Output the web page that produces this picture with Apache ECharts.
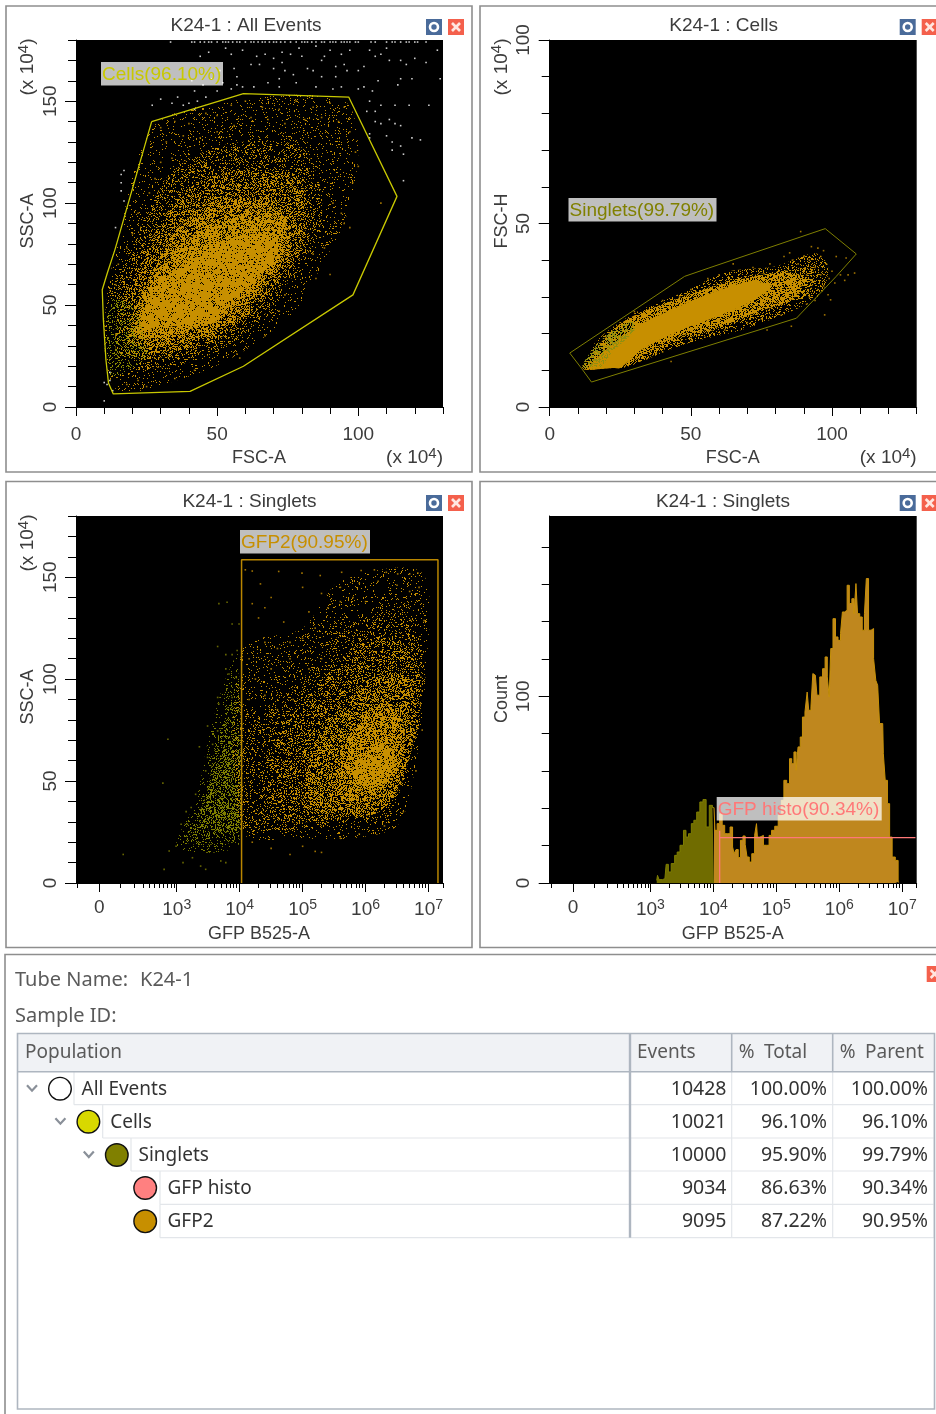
<!DOCTYPE html>
<html><head><meta charset="utf-8">
<style>html,body{margin:0;padding:0;background:#fff}#main{width:936px;height:1414px}#main canvas{filter:blur(0.45px)}</style>
<script src="https://cdn.jsdelivr.net/npm/echarts@6/dist/echarts.min.js"></script>
</head><body><div id="main"></div>
<script>
// ---------- colours ----------
const ORANGE='#C78F00', OLIVE='#7F7F00', YELLOW='#C8C800', PINK='#FF7878', WHITE='#FFFFFF';

// ---------- tick labels ----------
const linearXMajor=[0,50,100];
const linearXMinor=[10,20,30,40,60,70,80,90,110,120,130];
const ssc150Major=[0,50,100,150];
const ssc150Minor=[10,20,30,40,60,70,80,90,110,120,130,140,160,170,180];
const fscHMajor=[0,50,100];
const fscHMinor=[10,20,30,40,60,70,80,90];
const countMajor=[0,100];
const countMinor=[20,40,60,80,120,140,160,180];
// biexponential axis expressed in decades (3 = 10^3, ...); 1.77 is the "0" mark
const gfpMajor=[1.77,3,4,5,6,7];
const gfpMajorText={1.77:'0',3:'10{s|3}',4:'10{s|4}',5:'10{s|5}',6:'10{s|6}',7:'10{s|7}'};
const gfpMinor=[1.42,2.11,2.32,2.47,2.57,2.65,2.73,2.79,2.85,2.91,2.96,
 3.3,3.48,3.6,3.7,3.78,3.85,3.9,3.95,4.3,4.48,4.6,4.7,4.78,4.85,4.9,4.95,
 5.3,5.48,5.6,5.7,5.78,5.85,5.9,5.95,6.3,6.48,6.6,6.7,6.78,6.85,6.9,6.95,7.23];

// ---------- gates ----------
const gateCells=[[26.8,140],[59.3,153.7],[96.6,152],[113.7,103.3],[98.1,55],[59.3,20],[40.4,7.7],[13.2,6.4],[11.5,11.8],[10.6,23.2],[9.7,42.8],[9.3,57.5],[11.1,65.7],[13.8,77.2]];
const gateSinglets=[[7.1,14.7],[47.8,35.6],[56.1,37.8],[97.6,48.6],[108.6,41.7],[101.5,35.6],[87.4,24.2],[76.2,21.5],[14.8,6.8],[11.2,10.6]];
const gateGfp2=[[4.03,0],[4.03,158.5],[7.15,158.5],[7.15,0]];
const gateHisto=[[4.1,0],[4.1,28],[4.1,24.3],[7.21,24.3]];

// ---------- density outlines (stipple level: percent filled) ----------
const all0=[[14,9],[11,55],[14,75],[27,137],[59,151],[95,150],[100,125],[95,90],[88,72],[78,48],[60,28],[40,15]];
const allA=[[12.1,15],[10.9,52.6],[18,72.3],[26.2,98.4],[35.7,118],[55.8,129.5],[79.4,127.8],[86.5,108.2],[86.5,88.6],[79.4,69],[72.3,55.9],[65.2,42.8],[53.4,29.8],[39.2,21.6],[23.9,18.3]];
const allAB=[[15,24],[15,48],[22,68],[31,93],[43,110],[60,116],[78,113],[82,98],[80,80],[72,62],[62,46],[50,33],[36,26],[24,23]];
const allB=[[19.1,31.4],[19.1,42.8],[26.2,64.1],[35.7,87],[49.9,101.7],[67.6,100],[75.9,88.6],[74.7,73.9],[65.2,55.9],[55.8,41.2],[44,34.7],[29.8,29.8]];
const allBC=[[20.5,35],[23.5,51],[32,72],[44,86],[60,94],[73,93],[74,78],[65,60],[52,46],[39,37],[28,34]];
const allC=[[22.7,39.6],[28.6,59.2],[39.2,70.6],[53.4,82.1],[67.6,85.3],[72.3,78.8],[65.2,64.1],[55.8,52.6],[48.7,41.2],[34.5,39.6]];
const allOlive=[[12,16],[12,52],[20,50],[24,35],[25,25],[16,16]];
const celA=[[11.2,10.6],[13,10.6],[15.9,17.4],[30.1,25.6],[46.6,31],[63.2,36.9],[79.7,38.3],[93.9,41.9],[98.6,38.3],[96.2,31],[86.8,26.5],[67.9,21],[49,17.4],[32.5,12.4],[26,10.6],[24.2,10.6]];
const celAB=[[11.5,10.6],[20,19],[37,27],[52,31.5],[69,35.5],[82,37],[92,38],[94,35],[90,30],[80,27.5],[66,23],[47,18],[31,12],[24,10.6],[22,10.6]];
const celB=[[11.8,10.6],[25.4,22.9],[44.3,29.2],[58.4,32.9],[75,36],[85.6,36.5],[90.3,34.7],[85.6,29.2],[73.8,26],[60.8,22],[44.3,18.8],[27.7,12],[22,10.6],[20.7,10.6]];
const celC=[[13.6,10.6],[28.9,21],[44.3,26.9],[58.4,31.4],[71.4,34.2],[78.5,32.9],[71.4,28.8],[60.8,25.1],[46.6,21],[32.5,15.6],[25,10.6],[23,10.6]];
const celOlive=[[11.8,11],[18.3,18.3],[28.9,23.3],[30.1,21],[21.8,14.7],[18.3,11]];
const sin0=[[4.05,25],[4.05,115],[5,125],[5.6,148],[6.9,152],[6.95,100],[6.75,50],[6.5,28],[5.8,22],[5,22]];
const sinA=[[4.05,25.5],[4.05,71.4],[4.93,97.6],[5.72,125.4],[6.51,133.6],[6.88,120.5],[6.91,92.7],[6.72,64.9],[6.51,42],[6.25,32.1],[5.46,28.8],[4.67,25.5]];
const sinAB=[[4.5,33],[4.6,72],[5.1,92],[5.8,115],[6.5,120],[6.85,105],[6.85,80],[6.62,55],[6.35,38],[5.5,31]];
const sinB=[[4.99,38.6],[5.2,68.1],[5.72,87.8],[6.09,100.9],[6.62,102.5],[6.8,87.8],[6.72,64.9],[6.51,45.2],[6.14,33.7],[5.46,34.5]];
const sinC=[[5.51,43.6],[5.67,68.1],[6.09,84.5],[6.41,87.8],[6.62,74.7],[6.46,51.7],[6.09,40.3]];
const sinD=[[5.78,55],[6.14,68.1],[6.46,64.8],[6.35,50],[5.99,46.8]];
const negO=[[3.0,18],[3.3,40],[3.5,70],[3.75,98],[3.99,112],[4,20],[3.6,15]];
const negA=[[3.15,20.6],[3.46,41.9],[3.62,68.1],[3.88,92.7],[3.99,102.5],[3.99,22.3],[3.62,19]];
const negB=[[3.36,28.8],[3.57,51.7],[3.78,68.1],[3.99,71.4],[3.99,25.5],[3.67,25.5]];

// ---------- individual events ----------
const outsideTopX=[33.5,41,42,44,45.5,47,48,50,52,53,54,55.5,57,58,60,62,63,64.5,66,67,68.5,70,71,72.5,74,76,78,80,81,82,83.5,85,87,88,90,91,92,94,95,96,97,99,100,104.5,106,110,112,113,115,117,118,120,121,124];
const outsideGate=[[44,172],[47,174],[53,176],[55,173],[59,175],[64,172],[67,173],[70,171],[73,174],[76,173],[79,176],[80,172],[85,177],[88,172],[90,175],[94,173],[97,175],[104,175],[106,172],[108,173],[110,176],[111,170],[115,170],[117,168],[120,171],[124,169],[128,175],[129,161],
[44,166],[51,165],[56,166],[57,162],[62,168],[65,168],[70,166],[72,161],[74,165],[77,163],[73,169],[84,165],[87,162],[82,166],[87,170],[92,167],[95,168],[96,165],[92,162],[100,165],[102,167],[107,160],[115,161],[119,161],
[42,155],[45,158],[41,160],[43,150],[48,161],[52,159],[55,156],[57,158],[59,157],[63,157],[68,159],[72,157],[78,159],[85,157],[91,156],[94,157],[100,156],[102,157],[105,155],[114,158],
[27,148],[30,151],[34,149],[36,152],[38,148],[40,149],[42,146],[46,152],[50,155],[104,150],[103,145],[106,145],[108,148],[113,148],[118,148],[125,148],[106,140],[108,139],[111,141],[113,139],[115,138],[104,134],[110,133],[104,132],[112,130],[115,128],[119,132],[122,131],[112,126],[116,124],[116,111],
[16,114],[17,116],[16,110],[16,106],[14,88],[17,101],[12,17],[12,13],[10,12],[11,11],[13,8],[10,3]];
const insideCells=[[30,137],[35,140],[40,139],[46,144],[50,143],[55,148],[60,150],[66,147],[72,146],[78,150],[84,147],[90,149],[95,147],[93,140],[87,142],[81,141],[74,139],[68,141],[62,142],[56,138],[50,135],[44,132],[38,133],[32,130],[30,120],[34,122],[28,112],[26,105],[22,95],[20,85],[18,78],[15,70],[14,60],[97,135],[99,125],[100,118],[98,110],[91,100],[94,95],[95,90],[97,88],[88,78],[84,75],[90,65],[85,63],[72,47],[74,55],[67,35],[57,26],[58,24],[42,18],[35,14],[22,13],[18,11],[25,10],[108,100]];
const cellsFringe=[[88.9,47.8],[92.7,43.7],[95,43.3],[97,42.6],[101.5,41],[105,40.6],[108,36.5],[105.7,36],[103,36],[104.5,34.5],[101,33.8],[98.6,30.6],[99.5,29.2],[97.4,25.1],[85.6,22],[77,21],[43,12.4],[90,41],[92,40],[94,38],[96,36],[88,39],[86,40],[91,36],[93,34],[95,32],[89,33],[92,30],[87,35],[85,42],[84,37],[83,41],[98,39],[96,41],[99,35],[97,33],[94,29],[91,28],[100,37],[82,25],[75,24],[70,23],[65,39],[60,36],[56,35],[50,32],[46,30],[40,29],[35,26],[30,26],[72,38],[78,39],[40,15],[50,18],[55,19],[62,21]];
const gfpFringe=[[4.09,153.6],[4.2,153],[4.33,146.7],[4.62,152.8],[4.99,152],[5.28,150.8],[5.62,152.4],[5.93,153.3],[6.14,153.6],[6.33,152.4],[6.51,151.6],[6.7,151.6],[6.83,152],[6.85,145],[6.93,128.7],[6.88,100.9],[6.87,87.8],[5,145],[5.3,142],[5.6,145],[5.9,147],[6.2,148],[6.5,146],[6.7,143],[5.1,133],[5.4,135],[5.6,138],[5.8,140],[6,138],[4.4,135],[4.5,140],[4.7,128],[4.2,137],[4.3,130],[4.6,115],[4.8,118],[4.4,118],[4.15,110],[4.5,105],[4.25,100],[4.8,110],[5,120],[5.2,125],[5.3,110],[5.1,105],[4.15,90],[4.4,92],[4.6,85],[4.85,90],[4.2,20],[4.5,17],[4.8,14],[5,18],[5.3,15],[5.6,22],[5.9,24],[6.3,28],[6.6,35],[6.8,55],[6.9,75],[5.2,15.5]];
const gfpNegative=[[2.15,14],[2.78,49],[2.86,70.5],[2.8,6.7],[2.88,15.7],[2.99,18],[3.1,10],[3.25,12.4],[3.38,8.3],[3.46,6.7],[3.7,10.8],[3.78,10],[3.36,66.8],[3.49,77],[3.65,91],[3.67,137],[3.8,137.7],[3.65,116],[3.88,127],[3.78,112],[3.83,102.5],[3.78,105],[3.07,28.8],[3.17,28.8],[3.15,35],[3.23,37],[3.3,43.5],[3.46,55],[3.49,61.6],[3.57,68],[3.65,74.6],[3.67,87.8],[3.88,91],[3.94,101],[3.96,114],[3.88,112],[3.99,127]];

// ---------- histogram ----------
const histBin=[3.10,3.125,3.15,3.23,3.27,3.30,3.36,3.41,3.44,3.50,3.55,3.58,3.63,3.67,3.71,3.76,3.81,3.86,3.91,3.96,4.01,4.04,4.08,4.12,4.16,4.20,4.24,4.29,4.32,4.34,4.38,4.41,4.45,4.49,4.52,4.55,4.59,4.63,4.68,4.69,4.71,4.77,4.82,4.87,4.90,4.95,5.00,5.06,5.10,5.14,5.19,5.23,5.26,5.30,5.33,5.36,5.40,5.43,5.48,5.50,5.53,5.57,5.59,5.62,5.67,5.71,5.76,5.79,5.83,5.85,5.88,5.92,5.96,6.00,6.04,6.06,6.11,6.14,6.18,6.22,6.25,6.28,6.30,6.35,6.38,6.42,6.44,6.49,6.52,6.57,6.59,6.63,6.65,6.69,6.71,6.75,6.78,6.82,6.86,6.92,6.95];
const histCount=[1.4,4.1,1.8,2.3,10,5.9,10.4,14.8,16.6,20.2,28.2,24.6,26.4,31.8,33.6,38,43.4,44.7,30,41.6,40.4,28.2,31.8,37.1,30.9,26.4,26.4,30,19.3,15.7,17.9,13.6,22.9,25.2,20.7,13.9,11.2,15.7,25.5,31.8,24.6,25.5,20.2,20.2,25.5,28.2,30.4,36.3,44.3,55,53.2,66.6,63.9,70.2,60.4,72.9,78.2,88.9,91.6,102.3,92.5,94.3,112.2,111.3,100.6,110.4,114.8,121.1,110.4,99.7,125.6,141.6,131.8,130,133.6,145.2,146.1,159.5,149.7,152.3,144.3,160.4,144.3,142.5,135.4,144.3,163.1,135.4,136.3,120.2,108.6,105.9,85.4,85.4,69.3,55,42.5,24.6,13.9,12.1,0.5];
const histGateEdge=4.03;

// ---------- statistics table ----------
const tubeName='K24-1';
const tableHead=['Population','Events','%\u2002Total','%\u2002Parent'];
const popNames=['All Events','Cells','Singlets','GFP histo','GFP2'];
const popEvents=['10428','10021','10000','9034','9095'];
const popTotal=['100.00%','96.10%','95.90%','86.63%','87.22%'];
const popParent=['100.00%','96.10%','99.79%','90.34%','90.95%'];
const popColors=['#FFFFFF','#D8D800','#808000','#FF8080','#C78F00'];
const popDepth=[0,1,2,3,3];

// ---------- hand-typed stipple mask used as a density fill ----------
const stipple=[
'31415926535897932384626433832795','02884197169399375105820974944592','30781640628620899862803482534211','70679821480865132823066470938446',
'09550582231725359408128481117450','28410270193852110555964462294895','49303819644288109756659334461284','75648233786783165271201909145648',
'56692346034861045432664821339360','72602491412737245870066063155881','74881520920962829254091715364367','89259036001133053054882046652138',
'41469519415116094330572703657595','91953092186117381932611793105118','54807446237996274956735188575272','48912279381830119491298336733624',
'40656643086021394946395224737190','70217986094370277053921717629317','67523846748184676694051320005681','27145263560827785771342757789609',
'17363717872146844090122495343014','65495853710507922796892589235420','19956112129021960864034418159813','62977477130996051870721134999999',
'83729780499510597317328160963185','95024459455346908302642522308253','34468503526193118817101000313783','87528865875332083814206171776691',
'47303598253490428755468731159562','86388235378759375195778185778053','21712268066130019278766111959092','16420198938095257201065485863278'];

function maskCanvas(hex,percent){
  const S=400,c=document.createElement('canvas');c.width=S;c.height=S;
  const ctx=c.getContext('2d'),im=ctx.createImageData(S,S),d=im.data;
  const r=parseInt(hex.slice(1,3),16),gg=parseInt(hex.slice(3,5),16),b=parseInt(hex.slice(5,7),16);
  for(let y=0;y<S;y++)for(let x=0;x<S;x++){
    const tens=(+stipple[y%32][x%32]+ +stipple[(x+5)%31][(y+9)%29])%10;
    const units=+stipple[(y+17)%29][(x+3)%31];
    if(tens*10+units<percent){const o=(y*S+x)*4;d[o]=r;d[o+1]=gg;d[o+2]=b;d[o+3]=255;}
  }
  ctx.putImageData(im,0,0);
  return {image:c,repeat:'repeat'};
}

const TXT='#3c3c3c';
const SANS='"Liberation Sans",Arial,sans-serif';
const UI='"Noto Sans",sans-serif';

const panels=[
 {left:76,top:40,title:'K24-1 : All Events',tx:246,ty:26,fr:[6,6],xMin:0,xMax:130,yMax:180,xM:linearXMajor,xm:linearXMinor,yM:ssc150Major,ym:ssc150Minor,xName:'FSC-A',yName:'SSC-A',xMult:true,yMult:true},
 {left:549.7,top:40,title:'K24-1 : Cells',tx:723.7,ty:26,fr:[480,6],xMin:0,xMax:130,yMax:100,xM:linearXMajor,xm:linearXMinor,yM:fscHMajor,ym:fscHMinor,xName:'FSC-A',yName:'FSC-H',xMult:true,yMult:true},
 {left:76,top:516,title:'K24-1 : Singlets',tx:249.5,ty:502,fr:[6,481.5],xMin:1.4,xMax:7.23,yMax:180,xM:gfpMajor,xm:gfpMinor,yM:ssc150Major,ym:ssc150Minor,xName:'GFP B525-A',yName:'SSC-A',log:true,yMult:true},
 {left:549.7,top:516,title:'K24-1 : Singlets',tx:723,ty:502,fr:[480,481.5],xMin:1.4,xMax:7.23,yMax:196.6,xM:gfpMajor,xm:gfpMinor,yM:countMajor,ym:countMinor,xName:'GFP B525-A',yName:'Count',log:true}
];

const grids=[],xAxes=[],yAxes=[],series=[],g=[];
const tickLine={color:'#000',width:1};
panels.forEach((p,i)=>{
  grids.push({left:p.left,top:p.top,width:367,height:367,show:true,backgroundColor:'#000',borderWidth:0,containLabel:false});
  const xBase={gridIndex:i,type:'value',min:p.xMin,max:p.xMax,position:'bottom',splitLine:{show:false},minorTick:{show:false},axisLine:{show:true,onZero:false,lineStyle:{color:'#000'}}};
  xAxes.push({...xBase,axisTick:{show:true,length:9,customValues:p.xM,lineStyle:tickLine},
    axisLabel:{show:true,customValues:p.xM,margin:p.log?15:18,color:TXT,fontFamily:SANS,fontSize:19,
      hideOverlap:false,showMinLabel:true,showMaxLabel:true,
      formatter:p.log?(v=>gfpMajorText[v]):(v=>String(v)),
      rich:{s:{fontSize:14,fontFamily:SANS,color:TXT,padding:[0,0,9,0]}}}});
  xAxes.push({...xBase,axisLine:{show:false},axisTick:{show:true,length:p.log?5:7,customValues:p.xm,lineStyle:tickLine},axisLabel:{show:false}});
  const yBase={gridIndex:i,type:'value',min:0,max:p.yMax,position:'left',splitLine:{show:false},minorTick:{show:false},axisLine:{show:true,onZero:false,lineStyle:{color:'#000'}}};
  yAxes.push({...yBase,axisTick:{show:true,length:11,customValues:p.yM,lineStyle:tickLine},
    axisLabel:{show:true,customValues:p.yM,rotate:90,margin:16,color:TXT,fontFamily:SANS,fontSize:19,hideOverlap:false,showMinLabel:true,showMaxLabel:true,formatter:v=>String(v)}});
  yAxes.push({...yBase,axisLine:{show:false},axisTick:{show:true,length:8,customValues:p.ym,lineStyle:tickLine},axisLabel:{show:false}});
});

function cloud(i,list){ // list of {pts,color,pct}
  const fills=list.map(l=>l.pct>=100?l.color:maskCanvas(l.color,l.pct));
  series.push({type:'custom',xAxisIndex:i*2,yAxisIndex:i*2,silent:true,z:2,
    data:list.map((_,k)=>[k,0]),
    renderItem:(params,api)=>{
      const l=list[params.dataIndex];
      return {type:'polygon',shape:{points:l.pts.map(q=>api.coord(q)),smooth:0.3},style:{fill:fills[params.dataIndex],stroke:null}};
    }});
}
function dots(i,name,data,color){
  series.push({type:'scatter',name,xAxisIndex:i*2,yAxisIndex:i*2,data,symbol:'rect',symbolSize:1.6,silent:true,z:3,itemStyle:{color}});
}
function gate(i,name,pts,color,width,closed){
  series.push({type:'line',name,xAxisIndex:i*2,yAxisIndex:i*2,data:closed?pts.concat([pts[0]]):pts,showSymbol:false,silent:true,z:5,lineStyle:{color,width}});
}

cloud(0,[{pts:all0,color:ORANGE,pct:7},{pts:allA,color:ORANGE,pct:20},{pts:allAB,color:ORANGE,pct:38},{pts:allB,color:ORANGE,pct:58},{pts:allBC,color:ORANGE,pct:76},{pts:allC,color:ORANGE,pct:92},{pts:allOlive,color:'#8A8A00',pct:20}]);
dots(0,'All Events',outsideGate.concat(outsideTopX.map(x=>[x,179])),WHITE);
dots(0,'Cells',insideCells,ORANGE);
gate(0,'Cells gate',gateCells,YELLOW,1.3,true);

cloud(1,[{pts:celA,color:ORANGE,pct:22},{pts:celAB,color:ORANGE,pct:45},{pts:celB,color:ORANGE,pct:75},{pts:celC,color:ORANGE,pct:100},{pts:celOlive,color:'#8F8F10',pct:40}]);
dots(1,'Singlets',cellsFringe,ORANGE);
gate(1,'Singlets gate',gateSinglets,OLIVE,1,true);

cloud(2,[{pts:negO,color:OLIVE,pct:10},{pts:negA,color:OLIVE,pct:24},{pts:negB,color:OLIVE,pct:42},{pts:sin0,color:ORANGE,pct:8},{pts:sinA,color:ORANGE,pct:16},{pts:sinAB,color:ORANGE,pct:27},{pts:sinB,color:ORANGE,pct:45},{pts:sinC,color:ORANGE,pct:65},{pts:sinD,color:ORANGE,pct:88}]);
dots(2,'GFP2',gfpFringe,ORANGE);
dots(2,'Negative',gfpNegative,OLIVE);
gate(2,'GFP2 gate',gateGfp2,'#B98600',1.5,false);

const histPairs=histBin.map((b,k)=>[b,histCount[k]]);
series.push({type:'line',name:'Singlets histogram',xAxisIndex:6,yAxisIndex:6,step:'middle',showSymbol:false,silent:true,z:2,
  data:histPairs.filter(d=>d[0]<=histGateEdge),lineStyle:{color:'#7F7F00',width:1},areaStyle:{color:'#706C00',opacity:1}});
series.push({type:'line',name:'GFP2 histogram',xAxisIndex:6,yAxisIndex:6,step:'middle',showSymbol:false,silent:true,z:2,
  data:histPairs.filter(d=>d[0]>=histGateEdge-0.03),lineStyle:{color:'#C8920A',width:1},areaStyle:{color:'#BF871E',opacity:1}});
gate(3,'GFP histo gate',gateHisto,PINK,1.3,false);

// ---------- page furniture ----------
function text(str,x,y,o={}){
  g.push({type:'text',x,y,rotation:o.rot||0,z:o.z||60,silent:true,style:{text:str,fill:o.color||TXT,
    font:(o.size||18)+'px '+(o.fam||SANS),align:o.align||'center',verticalAlign:'middle',rich:o.rich}});
}
function rect(x,y,w,h,o={}){
  g.push({type:'rect',z:o.z||50,silent:true,shape:{x,y,width:w,height:h},style:{fill:o.fill||'none',stroke:o.stroke||null,lineWidth:o.lw||1}});
}
function line(x1,y1,x2,y2,color,lw,z){
  g.push({type:'line',z:z||51,silent:true,shape:{x1,y1,x2,y2},style:{stroke:color,lineWidth:lw}});
}
function closeIcon(x,y){
  rect(x,y,16,16,{fill:'#F4604C'});
  line(x+4,y+4,x+12,y+12,'#FFE6E0',2.6,52);line(x+12,y+4,x+4,y+12,'#FFE6E0',2.6,52);
}
function gearIcon(x,y){
  rect(x,y,16,16,{fill:'#4A6B9A'});
  g.push({type:'circle',z:52,silent:true,shape:{cx:x+8,cy:y+8,r:4},style:{fill:'none',stroke:'#FFFFFF',lineWidth:2.6}});
}
const supRich={s:{fontSize:15,fontFamily:SANS,fill:TXT,padding:[0,0,9,0]}};
panels.forEach((p,i)=>{
  rect(p.fr[0],p.fr[1],466,466,{stroke:'#8E8E8E',lw:1.6});
  text(p.title,p.tx,p.ty,{size:19});
  gearIcon(p.left+350,p.top-21);
  closeIcon(p.left+372,p.top-21);
  text(p.xName,p.left+183,p.top+418);
  text(p.yName,p.left-48,p.top+(p.yName==='Count'?183:181),{rot:Math.PI/2});
  if(p.xMult)text('(x 10{s|4})',p.left+367,p.top+418,{align:'right',size:19,rich:supRich});
  if(p.yMult)text('(x 10{s|4})',p.left-48,p.top+27,{rot:Math.PI/2,size:19,rich:supRich});
});
function gateLabel(str,x,y,w,color){
  rect(x,y,w,23.5,{fill:'rgba(255,255,255,0.75)',z:70});
  text(str,x+1,y+12.5,{align:'left',color,z:71,size:19});
}
gateLabel('Cells(96.10%)',101,62,122,YELLOW);
gateLabel('Singlets(99.79%)',568.5,198,148,'#808000');
gateLabel('GFP2(90.95%)',240,530,130,ORANGE);
gateLabel('GFP histo(90.34%)',716.7,797,165,PINK);

// statistics table
rect(5,954.5,940,470,{stroke:'#8E8E8E',lw:1.6});
closeIcon(926.7,966);
text('Tube Name:',15,980,{align:'left',fam:UI,size:20,color:'#5a5a5a'});
text(tubeName,140,980,{align:'left',fam:UI,size:20,color:'#5a5a5a'});
text('Sample ID:',15,1016.5,{align:'left',fam:UI,size:20,color:'#5a5a5a'});
const colX=[17.5,630,731.7,832.7,934];
const rowY=[1071.7,1104.7,1138,1171,1204.3,1237.7];
const treeX=[74,102.7,131,160,160];
rect(17.5,1033.5,917,38,{fill:'#F0F2F5'});
rect(17.5,1033.5,917,375.5,{stroke:'#AEB6C0',lw:1.6,z:53});
line(17.5,1071.7,934,1071.7,'#AEB6C0',1.6,53);
for(let c=1;c<4;c++){line(colX[c],1033.5,colX[c],c===1?rowY[5]:1071.7,'#AEB6C0',c===1?2.4:1.6,54);}
for(let c=2;c<4;c++){line(colX[c],1071.7,colX[c],rowY[5],'#E3E6EA',1.2,52);}
line(934,1071.7,934,rowY[5],'#E3E6EA',1.2,52);
tableHead.forEach((h,c)=>{text(h,c===0?25:colX[c]+7,1052.5,{align:'left',fam:UI,size:19,color:'#5a5a5a'});});
popNames.forEach((n,r)=>{
  const yc=rowY[r]+16.5;
  line(treeX[r],rowY[r+1],934,rowY[r+1],'#E3E6EA',1.2,52);
  line(treeX[r],rowY[r],treeX[r],rowY[r+1],'#E3E6EA',1.2,52);
  const cx=60+popDepth[r]*28.4;
  g.push({type:'circle',z:55,silent:true,shape:{cx,cy:yc+0.5,r:11.3},style:{fill:popColors[r],stroke:'#111',lineWidth:1.4}});
  if(r<3)g.push({type:'polyline',z:55,silent:true,shape:{points:[[cx-33,yc-3],[cx-28,yc+2.5],[cx-23,yc-3]]},style:{stroke:'#8A9099',lineWidth:2.2,fill:'none'}});
  text(n,treeX[r]+7.5,yc+1,{align:'left',fam:UI,size:19,color:'#333'});
  text(popEvents[r],726.5,yc+1,{align:'right',fam:UI,size:19.5,color:'#333'});
  text(popTotal[r],827,yc+1,{align:'right',fam:UI,size:19.5,color:'#333'});
  text(popParent[r],928,yc+1,{align:'right',fam:UI,size:19.5,color:'#333'});
});

const chart=echarts.init(document.getElementById('main'),null,{renderer:'canvas'});
chart.setOption({animation:false,backgroundColor:'#fff',grid:grids,xAxis:xAxes,yAxis:yAxes,series,graphic:{elements:g}});
</script></body></html>
